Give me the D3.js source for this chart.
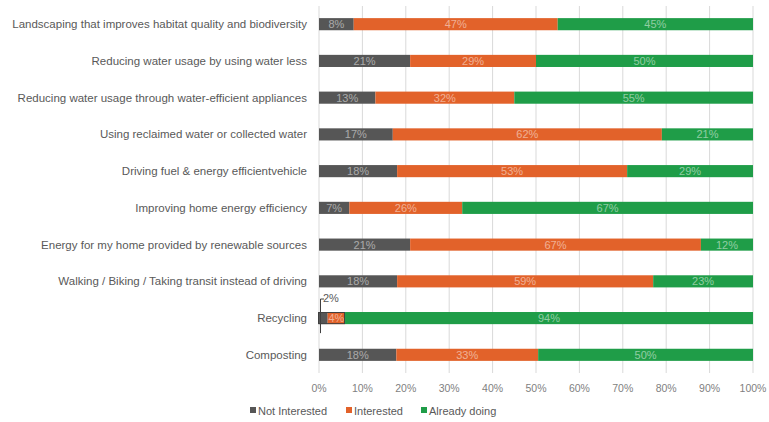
<!DOCTYPE html>
<html>
<head>
<meta charset="utf-8">
<script src="https://cdn.jsdelivr.net/npm/d3@7"></script>
<style>
  body { margin: 0; background: #fff; }
  text { font-family: "Liberation Sans", Arial, sans-serif; }
</style>
</head>
<body>
<div id="chart"></div>
<script>
const categories = [
  "Landscaping that improves habitat quality and biodiversity",
  "Reducing water usage by using water less",
  "Reducing water usage through water-efficient appliances",
  "Using reclaimed water or collected water",
  "Driving fuel & energy efficientvehicle",
  "Improving home energy efficiency",
  "Energy for my home provided by renewable sources",
  "Walking / Biking / Taking transit instead of driving",
  "Recycling",
  "Composting"
];
const seriesNames = ["Not Interested", "Interested", "Already doing"];
const notInterested = [8, 21, 13, 17, 18, 7, 21, 18, 2, 18];
const interested = [47, 29, 32, 62, 53, 26, 67, 59, 4, 33];
const alreadyDoing = [45, 50, 55, 21, 29, 67, 12, 23, 94, 50];
const tickValues = [0, 0.1, 0.2, 0.3, 0.4, 0.5, 0.6, 0.7, 0.8, 0.9, 1];
const colors = ["#565656", "#E2622A", "#1F9D48"];

const width = 769, height = 422;
const margin = { top: 6, right: 16, bottom: 49, left: 319 };

const svg = d3.select("#chart").append("svg")
  .attr("width", width)
  .attr("height", height);

const x = d3.scaleLinear().domain([0, 1]).range([margin.left, 753]);
const y = d3.scaleBand().domain(categories).range([margin.top, height - margin.bottom]).paddingInner(0.67).paddingOuter(0.33);

// rows, normalised to 100% so the stacks fill the axis
const rows = categories.map((c, i) => {
  const vals = [notInterested[i], interested[i], alreadyDoing[i]];
  const total = d3.sum(vals);
  let acc = 0;
  return vals.map((v, k) => {
    const seg = { cat: c, k, v, x0: acc / total, x1: (acc + v) / total };
    acc += v;
    return seg;
  });
});

// gridlines
svg.append("g")
  .selectAll("line")
  .data(tickValues)
  .join("line")
  .attr("x1", d => x(d)).attr("x2", d => x(d))
  .attr("y1", margin.top).attr("y2", height - margin.bottom)
  .attr("stroke", "#d9d9d9")
  .attr("stroke-width", 1);

// tick labels
svg.append("g")
  .selectAll("text")
  .data(tickValues)
  .join("text")
  .attr("x", d => x(d))
  .attr("y", 392)
  .attr("text-anchor", "middle")
  .attr("font-size", 10.5)
  .attr("fill", "#7f7f7f")
  .text(d => d3.format(".0%")(d));

// category labels
svg.append("g")
  .selectAll("text")
  .data(categories)
  .join("text")
  .attr("x", 307)
  .attr("y", d => y(d) + y.bandwidth() / 2)
  .attr("dy", "0.35em")
  .attr("text-anchor", "end")
  .attr("font-size", 11.5)
  .attr("fill", "#595959")
  .text(d => d);

const barH = y.bandwidth();

// bars
const segs = rows.flat();
svg.append("g")
  .selectAll("rect")
  .data(segs)
  .join("rect")
  .attr("x", d => x(d.x0))
  .attr("y", d => y(d.cat))
  .attr("width", d => x(d.x1) - x(d.x0))
  .attr("height", barH)
  .attr("fill", d => colors[d.k]);

// in-bar labels (Recycling's 2% is called out above the bar)
svg.append("g")
  .selectAll("text")
  .data(segs.filter(d => !(d.cat === "Recycling" && d.k === 0)))
  .join("text")
  .attr("x", d => (x(d.x0) + x(d.x1)) / 2)
  .attr("y", d => y(d.cat) + barH / 2)
  .attr("dy", "0.36em")
  .attr("text-anchor", "middle")
  .attr("font-size", 11)
  .attr("fill", "#ffffff")
  .attr("fill-opacity", 0.5)
  .text(d => d.v + "%");

// callout for Recycling 2%
const rec = rows[categories.indexOf("Recycling")];
const ry = y("Recycling");
const callout = svg.append("g").attr("fill", "none").attr("stroke", "#404040").attr("stroke-width", 1);
callout.append("rect")
  .attr("x", x(rec[0].x0) - 0.5)
  .attr("y", ry + 0.5)
  .attr("width", x(rec[1].x1) - x(rec[0].x0))
  .attr("height", barH - 1);
callout.append("path")
  .attr("d", `M${x(rec[0].x0) + 1.5},${ry + barH + 9} V${ry - 13} H${x(rec[0].x0) + 5}`);
svg.append("text")
  .attr("x", x(rec[0].x0) + 4)
  .attr("y", ry - 14)
  .attr("dy", "0.35em")
  .attr("font-size", 11)
  .attr("fill", "#595959")
  .text(rec[0].v + "%");

// legend
const legend = svg.append("g")
  .selectAll("g")
  .data(seriesNames)
  .join("g")
  .attr("transform", (d, i) => `translate(${[250, 346, 421][i]},411)`);
legend.append("rect")
  .attr("x", 0).attr("y", -4)
  .attr("width", 6).attr("height", 6)
  .attr("fill", (d, i) => colors[i]);
legend.append("text")
  .attr("x", 8)
  .attr("dy", "0.32em")
  .attr("font-size", 11)
  .attr("fill", "#595959")
  .text(d => d);
</script>
</body>
</html>
